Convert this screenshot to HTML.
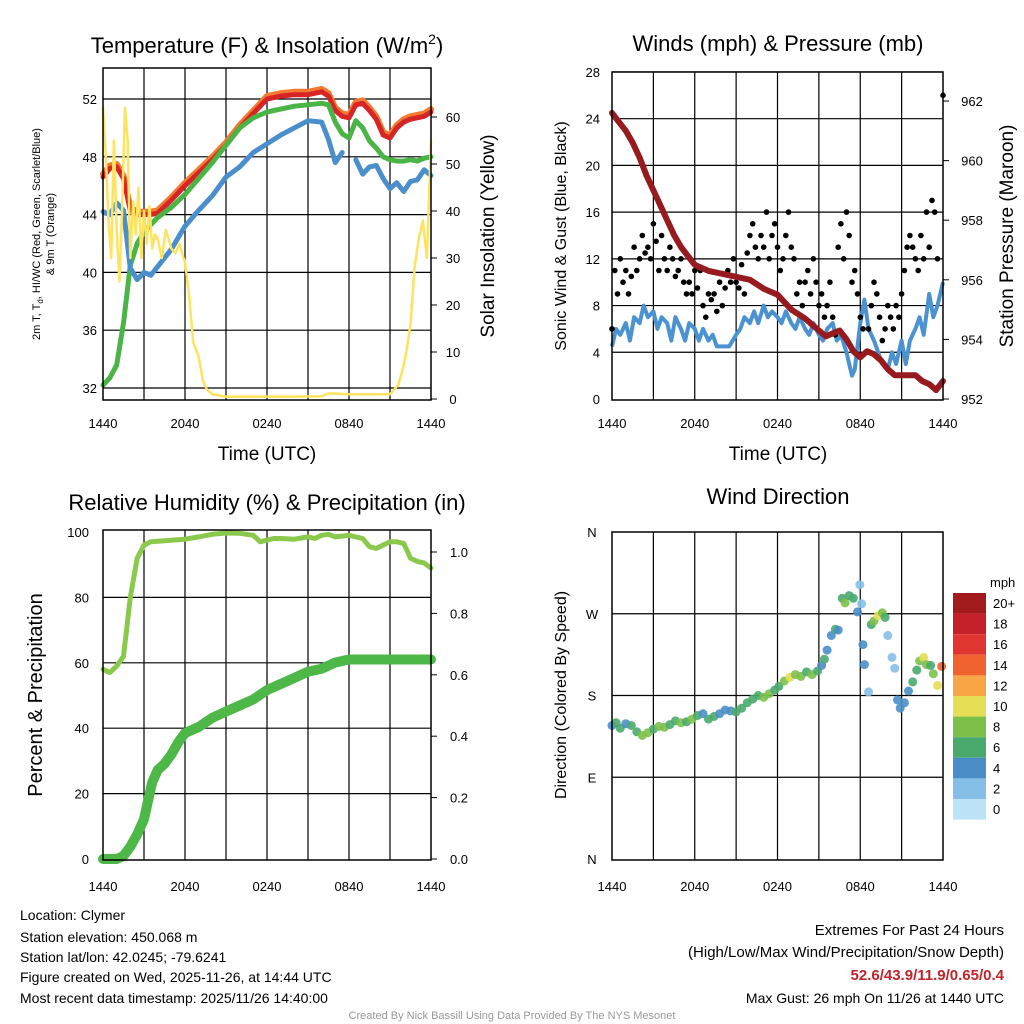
<!DOCTYPE html>
<html><head><meta charset="utf-8"><style>
html,body{margin:0;padding:0;background:#fff}
svg{display:block;font-family:"Liberation Sans",Arial,sans-serif}
</style></head><body>
<svg id="c" width="1024" height="1024" viewBox="0 0 1024 1024" xmlns="http://www.w3.org/2000/svg">
<rect width="1024" height="1024" fill="#fff"/>
<g id="p1"></g>
<g id="p2"></g>
<g id="p3"></g>
<g id="p4"></g>
<g id="txt">
<text x="20" y="920" font-size="14">Location: Clymer</text>
<text x="20" y="942" font-size="14">Station elevation: 450.068 m</text>
<text x="20" y="962" font-size="14">Station lat/lon: 42.0245; -79.6241</text>
<text x="20" y="982" font-size="14">Figure created on Wed, 2025-11-26, at 14:44 UTC</text>
<text x="20" y="1003" font-size="14">Most recent data timestamp: 2025/11/26 14:40:00</text>
<text x="1004" y="935" font-size="15" text-anchor="end">Extremes For Past 24 Hours</text>
<text x="1004" y="957" font-size="15" text-anchor="end">(High/Low/Max Wind/Precipitation/Snow Depth)</text>
<text x="1004" y="980" font-size="15" font-weight="bold" fill="#c0232b" text-anchor="end">52.6/43.9/11.9/0.65/0.4</text>
<text x="1004" y="1003" font-size="14" text-anchor="end">Max Gust: 26 mph On 11/26 at 1440 UTC</text>
<text x="512" y="1019" font-size="11" fill="#999" text-anchor="middle">Created By Nick Bassill Using Data Provided By The NYS Mesonet</text>
</g>
</svg>
<script>
// ---- data (hours since 1440 UTC) ----
const tHours = [0,0.5,1,1.5,2,2.5,3,3.5,4,5,6,7,8,9,10,11,12,13,14,15,16,16.5,17,17.5,18,18.5,19,19.5,20,20.5,21,21.5,22,22.5,23,23.5,24];
const tempRed = [46.6,47.2,47.3,46.5,44.3,44.0,44.0,44.0,44.1,45.0,46.0,46.9,47.8,48.8,50.0,51.0,52.0,52.2,52.3,52.3,52.5,52.2,51.2,50.8,50.7,51.6,51.7,51.2,50.6,49.5,49.3,50.0,50.4,50.6,50.7,50.8,51.1];
const tempGreen = [32.2,32.7,33.6,36.5,40.5,42.0,42.8,43.3,43.8,44.5,45.4,46.5,47.6,48.8,50.0,50.7,51.1,51.3,51.5,51.6,51.7,51.6,50.4,49.6,49.3,50.5,50.0,49.1,48.6,48.0,47.8,47.7,47.7,47.8,47.7,47.9,48.0];
const tempBlue = [44.2,44.0,44.8,44.3,40.3,39.5,40.0,39.8,40.4,41.6,43.2,44.3,45.3,46.6,47.3,48.3,48.9,49.5,50.0,50.5,50.4,49.2,47.6,48.3,null,47.8,46.8,47.3,47.4,46.5,45.8,46.2,45.6,46.3,46.4,47.1,46.7];
const solarHours = [0,0.2,0.4,0.6,0.8,1,1.2,1.4,1.6,1.8,2,2.2,2.4,2.6,2.8,3,3.2,3.4,3.6,3.8,4,4.3,4.6,5,5.3,5.6,6,6.3,6.6,7,7.3,7.6,8,9,12,14,16,16.5,18,20,21,21.3,21.6,21.9,22.2,22.5,22.8,23.1,23.4,23.7,24];
const solarVals = [62,52,38,30,55,36,25,40,62,55,30,42,35,45,30,40,33,41,32,35,34,30,36,32,31,33,29,22,12,9,4,2,1,0.5,0.5,0.5,0.6,1.2,1,1,1,2,3,6,10,16,28,34,38,30,55];
const windHours = [0,0.3,0.6,1,1.3,1.6,2,2.3,2.6,3,3.3,3.6,4,4.3,4.6,5,5.3,5.6,6,6.3,6.6,7,7.3,7.6,8,8.5,9,9.3,9.6,10,10.3,10.6,11,11.3,11.6,12,12.3,12.6,13,13.3,13.6,14,14.3,14.6,15,15.3,15.6,16,16.3,16.6,17,17.2,17.4,17.6,18,18.3,18.6,19,19.3,19.6,20,20.3,20.6,21,21.3,21.6,22,22.3,22.6,23,23.3,23.6,24];
const windSpd = [4.5,6,5.5,6.5,5,7,6.5,8,7,7.5,6,7,6.5,5,7,6,5,6.5,6,5,6,5,5.5,4.5,4.5,4.5,5.5,6,7,6.5,7.5,6.5,8,7,7.5,7,6.5,7.5,6.5,6,7,6,5.5,6.5,5.5,5,6,6.5,5,5.5,4,3,2,2.5,6.5,8.5,6,5,4,3,2.5,4,3,5,3,5,6,7,5.5,9,7,8,10];
const gustHours = [0,0.2,0.4,0.6,0.8,1,1.2,1.4,1.6,1.8,2,2.2,2.4,2.6,2.8,3,3.2,3.4,3.6,3.8,4,4.2,4.4,4.6,4.8,5,5.2,5.4,5.6,5.8,6,6.2,6.4,6.6,6.8,7,7.2,7.4,7.6,7.8,8,8.2,8.4,8.6,8.8,9,9.2,9.4,9.6,9.8,10,10.2,10.4,10.6,10.8,11,11.2,11.4,11.6,11.8,12,12.2,12.4,12.6,12.8,13,13.2,13.4,13.6,13.8,14,14.2,14.4,14.6,14.8,15,15.2,15.4,15.6,15.8,16,16.2,16.4,16.6,16.8,17,17.2,17.4,17.6,17.8,18,18.2,18.4,18.6,18.8,19,19.2,19.4,19.6,19.8,20,20.2,20.4,20.6,20.8,21,21.2,21.4,21.6,21.8,22,22.2,22.4,22.6,22.8,23,23.2,23.4,23.6,23.8,24];
const gustVals = [6,11,9,12,10,11,9,10.5,13,11,12,14,12.5,13,12,15,13.5,11,14,12,11,13,12,10.5,11,12,10,9,10,9,11,9.5,11,8,7,9,8.5,9,7.5,10,8,9.5,11,10,12,10,9.5,11.5,9,12.5,14,15,13,12,14,13,16,12,14,15,13,11,12,14,16,13,12,9,10,8,10,11,9,12,10,8,9,7,8,10,7,5.5,13,15,12,16,14,10,11,9,7,6,4,6,8,10,9,7,5,6,8,7,6,8,7,9,11,13,14,13,12,11,14,12,16,13,17,16,12];
const pressHours = [0,0.5,1,1.5,2,2.5,3,3.5,4,4.5,5,5.5,6,7,8,9,10,11,12,13,14,15,15.5,16,16.5,17,17.5,18,18.5,19,19.5,20,20.5,21,22,22.5,23,23.5,24];
const pressVals = [961.6,961.3,961.0,960.6,960.1,959.5,959.0,958.5,958.0,957.5,957.1,956.8,956.5,956.3,956.2,956.1,956.0,955.7,955.5,955.0,954.7,954.3,954.1,954.2,954.3,954.0,953.6,953.4,953.6,953.5,953.3,953.0,952.8,952.8,952.8,952.6,952.5,952.3,952.6];
const rhHours = [0,0.5,1,1.5,2,2.5,3,3.5,4,5,6,7,8,9,10,11,11.5,12,12.5,13,14,15,15.5,16,16.5,17,18,19,19.5,20,20.5,21,21.5,22,22.5,23,23.5,24];
const rhVals = [58,57,59,62,80,92,96,97,97.2,97.5,97.8,98.5,99.3,99.7,99.6,99,97,97.5,98,98,97.8,98.5,98,99,99.3,98.5,99,98,95.5,95,96,97,97,96.5,92,91,90.5,89];
const precHours = [0,0.5,1,1.5,2,2.5,3,3.3,3.6,4,4.5,5,5.5,6,7,8,9,10,11,12,13,14,15,16,17,18,19,20,21,22,23,24];
const precVals = [0,0,0,0.01,0.04,0.08,0.13,0.19,0.25,0.29,0.31,0.34,0.38,0.41,0.43,0.46,0.48,0.5,0.52,0.55,0.57,0.59,0.61,0.62,0.64,0.65,0.65,0.65,0.65,0.65,0.65,0.65];
const dirHours = [0,0.3,0.6,1,1.4,1.8,2.2,2.6,3,3.4,3.8,4.2,4.6,5,5.4,5.8,6.2,6.6,7,7.4,7.8,8.2,8.6,9,9.4,9.8,10.2,10.6,11,11.4,11.8,12.1,12.5,12.9,13.3,13.7,14.1,14.5,14.9,15.2,15.4,15.6,15.9,16.2,16.4,16.7,16.9,17.2,17.5,17.8,17.97,18.1,18.2,18.3,18.6,18.8,19,19.3,19.6,19.8,20,20.3,20.5,20.7,20.9,21.2,21.5,21.8,22.1,22.3,22.6,22.8,23.1,23.3,23.6,23.9];
const dirVals = [147,150,144,149,147,140,136,139,143,146,145,148,152,150,151,154,158,160,154,157,160,164,163,162,166,172,176,180,178,182,186,190,196,200,203,201,206,203,207,213,220,230,246,253,252,287,282,290,287,272,302,281,236,214,184,258,262,268,271,266,246,222,210,175,166,172,185,195,208,218,222,214,213,204,191,212];
const dirSpd = [4,6,6,4,6,6,8,8,6,7,8,6,6,7,6,8,6,4,6,6,4,3,4,6,5,6,6,6,8,8,6,6,7,10,8,8,6,8,6,4,6,4,3,6,4,6,8,6,6,4,2,2,3,4,2,6,8,10,8,6,2,2,2,4,4,4,4,6,6,8,10,8,6,8,10,13];
const speedColors = ['#bde3f6','#85bfe7','#4a8ec8','#4aaa6e','#7cc04a','#e6de55','#f8a545','#f0622e','#e03530','#c4202a','#a11a1c'];
const speedLabels = ['0','2','4','6','8','10','12','14','16','18','20+'];
const xTickLabels = ['1440','2040','0240','0840','1440'];

// ---- helpers ----
const NS='http://www.w3.org/2000/svg';
function mk(parent,tag,attrs,text){const e=document.createElementNS(NS,tag);for(const k in attrs)e.setAttribute(k,attrs[k]);if(text!==undefined)e.textContent=text;parent.appendChild(e);return e;}
function pathFrom(xs,ys,fx,fy){let d='',pen=false;for(let i=0;i<xs.length;i++){if(ys[i]===null||ys[i]===undefined){pen=false;continue;}d+=(pen?'L':'M')+fx(xs[i]).toFixed(1)+','+fy(ys[i]).toFixed(1);pen=true;}return d;}

function frame(g,L,T,R,B,vgrid,hgridYs){
  for(const x of vgrid){const l=mk(g,'line',{x1:x,x2:x,y1:T,y2:B,stroke:'#000','stroke-width':1.2});}
  for(const y of hgridYs){const l=mk(g,'line',{x1:L,x2:R,y1:y,y2:y,stroke:'#000','stroke-width':1.2});}
}
function border(g,L,T,R,B){const r=mk(g,'rect',{x:L,y:T,width:R-L,height:B-T,fill:'none',stroke:'#000','stroke-width':1.5});}
function xlabels(g,L,R,y){for(let i=0;i<5;i++){const t=mk(g,'text',{x:L+(R-L)*i/4,y:y,'font-size':13,'text-anchor':'middle'},xTickLabels[i]);}}
function vgridXs(L,R){const a=[];for(let i=1;i<8;i++)a.push(L+(R-L)*i/8);return a;}
function txt(g,attrs,s,name){const t=mk(g,'text',attrs,s);return t;}

// ===== Panel 1 =====
(function(){
 const g=document.getElementById('p1');const L=103,R=431,T=68,B=400;
 const fx=h=>L+h*(R-L)/24, fy=v=>388-(v-32)*14.45, fs=v=>399-v*4.7;
 const leftTicks=[32,36,40,44,48,52];
 frame(g,L,T,R,B,vgridXs(L,R),leftTicks.map(fy));
 for(const v of leftTicks){txt(g,{x:L-6,y:fy(v)+5,'font-size':13,'text-anchor':'end'},String(v),'y-tick-label');}
 for(const v of [0,10,20,30,40,50,60]){txt(g,{x:R+22,y:fs(v)+5,'font-size':13,'text-anchor':'middle'},String(v),'y2-tick-label');mk(g,'line',{x1:R,x2:R+6,y1:fs(v),y2:fs(v),stroke:'#000'});}
 const o=mk(g,'path',{d:pathFrom(tHours,tempRed.map(v=>v+0.2),fx,fy),fill:'none',stroke:'#f47a30','stroke-width':6,'stroke-linejoin':'round','stroke-linecap':'round'});
 
 const r=mk(g,'path',{d:pathFrom(tHours,tempRed,fx,fy),fill:'none',stroke:'#d62526','stroke-width':5,'stroke-linejoin':'round','stroke-linecap':'round'});
 
 const gr=mk(g,'path',{d:pathFrom(tHours,tempGreen,fx,fy),fill:'none',stroke:'#4ab546','stroke-width':5,'stroke-linejoin':'round','stroke-linecap':'round'});
 
 const bl=mk(g,'path',{d:pathFrom(tHours,tempBlue,fx,fy),fill:'none',stroke:'#4a8fcb','stroke-width':5,'stroke-linejoin':'round','stroke-linecap':'round'});
 
 const y=mk(g,'path',{d:pathFrom(solarHours,solarVals,fx,fs),fill:'none',stroke:'#fde35f','stroke-width':2.5,'stroke-linejoin':'round'});
 
 border(g,L,T,R,B);
 xlabels(g,L,R,428);
 txt(g,{x:267,y:460,'font-size':19,'text-anchor':'middle'},'Time (UTC)','x-axis-title');
 const t=txt(g,{x:267,y:53,'font-size':22,'text-anchor':'middle'},'','chart-title');
 t.innerHTML='Temperature (F) &amp; Insolation (W/m<tspan dy="-9" font-size="14">2</tspan><tspan dy="9">)</tspan>';
 const yl=txt(g,{transform:'translate(40,234) rotate(-90)','font-size':11,'text-anchor':'middle'},'','y-axis-title');
 yl.innerHTML='2m T, T<tspan dy="3" font-size="8">d</tspan><tspan dy="-3">, HI/WC (Red, Green, Scarlet/Blue)</tspan>';
 txt(g,{transform:'translate(54,234) rotate(-90)','font-size':11,'text-anchor':'middle'},'& 9m T (Orange)','y-axis-title-line2');
 txt(g,{transform:'translate(494,236) rotate(-90)','font-size':19,'text-anchor':'middle'},'Solar Insolation (Yellow)','y2-axis-title');
})();

// ===== Panel 2 =====
(function(){
 const g=document.getElementById('p2');const L=612,R=943,T=72,B=400;
 const fx=h=>L+h*(R-L)/24, fy=v=>399-v*11.68, fp=p=>399-(p-952)*29.8;
 const ticks=[0,4,8,12,16,20,24,28];
 frame(g,L,T,R,B,vgridXs(L,R),ticks.slice(1).map(fy));
 for(const v of ticks){txt(g,{x:L-12,y:fy(v)+5,'font-size':13,'text-anchor':'end'},String(v),'y-tick-label');}
 for(const p of [952,954,956,958,960,962]){txt(g,{x:R+29,y:fp(p)+5,'font-size':13,'text-anchor':'middle'},String(p),'y2-tick-label');mk(g,'line',{x1:R,x2:R+6,y1:fp(p),y2:fp(p),stroke:'#000'});}
 const w=mk(g,'path',{d:pathFrom(windHours,windSpd,fx,fy),fill:'none',stroke:'#4a92d0','stroke-width':4,'stroke-linejoin':'round'});
 
 const n=Math.min(gustHours.length,gustVals.length);
 for(let i=0;i<n;i++){const c=mk(g,'circle',{cx:fx(gustHours[i]).toFixed(1),cy:fy(gustVals[i]).toFixed(1),r:2.8,fill:'#000'});
  }
 const c=mk(g,'circle',{cx:fx(24),cy:fy(26),r:2.8,fill:'#000'});
 const p=mk(g,'path',{d:pathFrom(pressHours,pressVals,fx,fp),fill:'none',stroke:'#971b1e','stroke-width':6,'stroke-linejoin':'round','stroke-linecap':'round'});
 
 border(g,L,T,R,B);
 xlabels(g,L,R,428);
 txt(g,{x:778,y:460,'font-size':19,'text-anchor':'middle'},'Time (UTC)','x-axis-title');
 txt(g,{x:778,y:51,'font-size':22,'text-anchor':'middle'},'Winds (mph) & Pressure (mb)','chart-title');
 txt(g,{transform:'translate(566,236) rotate(-90)','font-size':16,'text-anchor':'middle'},'Sonic Wind & Gust (Blue, Black)','y-axis-title');
 txt(g,{transform:'translate(1013,236) rotate(-90)','font-size':19,'text-anchor':'middle'},'Station Pressure (Maroon)','y2-axis-title');
})();

// ===== Panel 3 =====
(function(){
 const g=document.getElementById('p3');const L=103,R=431,T=530,B=860;
 const fx=h=>L+h*(R-L)/24, fy=v=>859-v*3.27, fr=v=>859-v*307;
 const ticks=[0,20,40,60,80,100];
 frame(g,L,T,R,B,vgridXs(L,R),ticks.slice(1,5).map(fy));
 for(const v of ticks){txt(g,{x:L-14,y:fy(v)+5,'font-size':13,'text-anchor':'end'},String(v),'y-tick-label');}
 for(let i=0;i<=5;i++){const v=i*0.2;txt(g,{x:R+28,y:fr(v)+5,'font-size':13,'text-anchor':'middle'},v.toFixed(1),'y2-tick-label');mk(g,'line',{x1:R,x2:R+6,y1:fr(v),y2:fr(v),stroke:'#000'});}
 const rh=mk(g,'path',{d:pathFrom(rhHours,rhVals,fx,fy),fill:'none',stroke:'#8bc94d','stroke-width':5,'stroke-linejoin':'round','stroke-linecap':'round'});
 
 const pr=mk(g,'path',{d:pathFrom(precHours,precVals,fx,fr),fill:'none',stroke:'#4db848','stroke-width':10,'stroke-linejoin':'round','stroke-linecap':'round'});
 
 border(g,L,T,R,B);
 xlabels(g,L,R,891);
 txt(g,{x:267,y:510,'font-size':22,'text-anchor':'middle'},'Relative Humidity (%) & Precipitation (in)','chart-title');
 txt(g,{transform:'translate(42,695) rotate(-90)','font-size':20,'text-anchor':'middle'},'Percent & Precipitation','y-axis-title');
})();

// ===== Panel 4 =====
(function(){
 const g=document.getElementById('p4');const L=612,R=943,T=532,B=860;
 const fx=h=>L+h*(R-L)/24, fy=d=>859-d*327/360;
 const dirs=[0,90,180,270,360], dl=['N','E','S','W','N'];
 frame(g,L,T,R,B,vgridXs(L,R),[fy(90),fy(180),fy(270)]);
 for(let i=0;i<5;i++){txt(g,{x:L-20,y:fy(dirs[i])+5,'font-size':13,'text-anchor':'middle'},dl[i],'y-tick-label');}
 for(let i=0;i<dirHours.length;i++){const idx=Math.min(10,Math.round(dirSpd[i]/2));
  const c=mk(g,'circle',{cx:fx(dirHours[i]).toFixed(1),cy:fy(dirVals[i]).toFixed(1),r:4.5,fill:speedColors[idx],'fill-opacity':0.9});
  }
 border(g,L,T,R,B);
 xlabels(g,L,R,891);
 txt(g,{x:778,y:504,'font-size':22,'text-anchor':'middle'},'Wind Direction','chart-title');
 txt(g,{transform:'translate(566,695) rotate(-90)','font-size':16,'text-anchor':'middle'},'Direction (Colored By Speed)','y-axis-title');
 const cb=mk(g,'g',{});
 const top=593,h=20.6;
 for(let i=0;i<11;i++){const k=10-i;const r=mk(cb,'rect',{x:953,y:(top+i*h).toFixed(1),width:33,height:h.toFixed(1),fill:speedColors[k]});
  
  txt(cb,{x:993,y:(top+i*h+15).toFixed(1),'font-size':13},speedLabels[k],'colorbar-label');}
 txt(cb,{x:990,y:587,'font-size':13},'mph','colorbar-title');
})();
</script>
</body></html>
